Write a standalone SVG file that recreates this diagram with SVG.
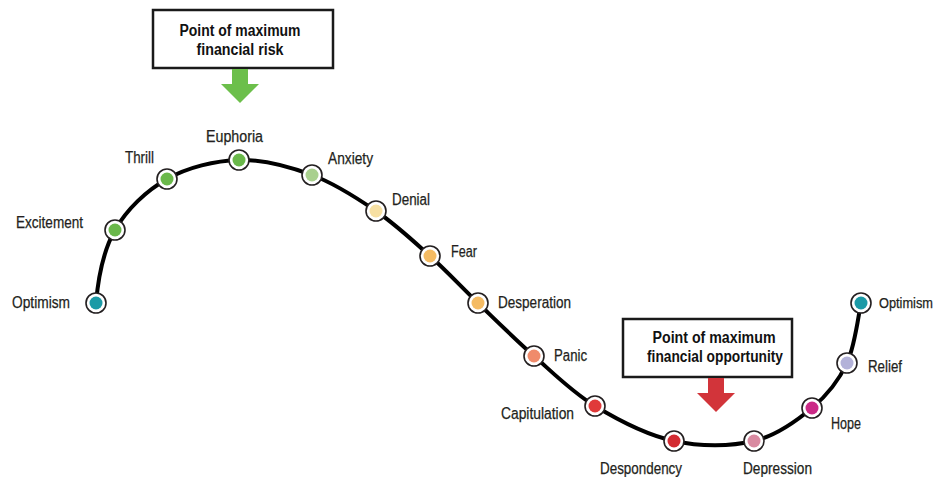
<svg xmlns="http://www.w3.org/2000/svg" width="940" height="477" viewBox="0 0 940 477">
  <style>
    .lbl { font-family: "Liberation Sans", Arial, sans-serif; font-size: 16px; fill: #231f20; stroke: #231f20; stroke-width: 0.25; }
    .btxt { font-family: "Liberation Sans", Arial, sans-serif; font-size: 16px; font-weight: bold; fill: #111; text-anchor: middle; }
    .box { fill: #fff; stroke: #1a1a1a; stroke-width: 2.5; }
    .ring { fill: #fff; stroke: #231f20; stroke-width: 1.6; }
    .curve { fill: none; stroke: #000; stroke-width: 4; stroke-linecap: round; }
  </style>
  <rect width="940" height="477" fill="#fff"/>

  <!-- the emotional cycle curve -->
  <g id="connectors">
    <path class="curve" d="M96,303 C98,280 103.2,250.7 115,230 C126.8,209.3 146.3,190.7 167,179 C187.7,167.3 214.8,160.7 239,160 C263.2,159.3 289.2,166.5 312,175 C334.8,183.5 356.3,197.5 376,211 C395.7,224.5 413,240.7 430,256 C447,271.3 460.7,286.3 478,303 C495.3,319.7 514.5,338.8 534,356 C553.5,373.2 571.7,391.8 595,406 C618.3,420.2 647.5,435.2 674,441 C700.5,446.8 731,446.5 754,441 C777,435.5 796.5,421 812,408 C827.5,395 838.8,380.5 847,363 C855.2,345.5 858.7,313 861,303"/>
  </g>

  <!-- callout: maximum risk -->
  <g id="risk-callout">
    <rect class="box" x="153" y="10" width="180" height="58"/>
    <text class="btxt" x="240" y="36" textLength="121" lengthAdjust="spacingAndGlyphs">Point of maximum</text>
    <text class="btxt" x="240" y="55" textLength="87" lengthAdjust="spacingAndGlyphs">financial risk</text>
    <polygon points="232,69 248,69 248,84 259,84 240,103 221,84 232,84" fill="#6cbf4b"/>
  </g>

  <!-- callout: maximum opportunity -->
  <g id="opportunity-callout">
    <rect class="box" x="623" y="319" width="169" height="58"/>
    <text class="btxt" x="714" y="343" textLength="123" lengthAdjust="spacingAndGlyphs">Point of maximum</text>
    <text class="btxt" x="715" y="362" textLength="136" lengthAdjust="spacingAndGlyphs">financial opportunity</text>
    <polygon points="708,378 724,378 724,393 735,393 716,412 697,393 708,393" fill="#d2343a"/>
  </g>

  <!-- stages -->
  <g id="optimism-start"><circle class="ring" cx="96" cy="303" r="10"/><circle cx="96" cy="303" r="6.5" fill="#1b9aa6"/><text class="lbl" x="12" y="308" textLength="58" lengthAdjust="spacingAndGlyphs">Optimism</text></g>
  <g id="excitement"><circle class="ring" cx="115" cy="230" r="10"/><circle cx="115" cy="230" r="6.5" fill="#6ab84a"/><text class="lbl" x="16" y="228" textLength="67" lengthAdjust="spacingAndGlyphs">Excitement</text></g>
  <g id="thrill"><circle class="ring" cx="167" cy="179" r="10"/><circle cx="167" cy="179" r="6.5" fill="#6ab84a"/><text class="lbl" x="125" y="163" textLength="29" lengthAdjust="spacingAndGlyphs">Thrill</text></g>
  <g id="euphoria"><circle class="ring" cx="239" cy="160" r="10"/><circle cx="239" cy="160" r="6.5" fill="#6ab84a"/><text class="lbl" x="206" y="142" textLength="57" lengthAdjust="spacingAndGlyphs">Euphoria</text></g>
  <g id="anxiety"><circle class="ring" cx="312" cy="175" r="10"/><circle cx="312" cy="175" r="6.5" fill="#a9d08e"/><text class="lbl" x="328" y="164" textLength="45" lengthAdjust="spacingAndGlyphs">Anxiety</text></g>
  <g id="denial"><circle class="ring" cx="376" cy="211" r="10"/><circle cx="376" cy="211" r="6.5" fill="#f7e0a3"/><text class="lbl" x="392" y="205" textLength="38" lengthAdjust="spacingAndGlyphs">Denial</text></g>
  <g id="fear"><circle class="ring" cx="430" cy="256" r="10"/><circle cx="430" cy="256" r="6.5" fill="#f5bb62"/><text class="lbl" x="451" y="257" textLength="26" lengthAdjust="spacingAndGlyphs">Fear</text></g>
  <g id="desperation"><circle class="ring" cx="478" cy="303" r="10"/><circle cx="478" cy="303" r="6.5" fill="#f5bb62"/><text class="lbl" x="498" y="308" textLength="73" lengthAdjust="spacingAndGlyphs">Desperation</text></g>
  <g id="panic"><circle class="ring" cx="534" cy="356" r="10"/><circle cx="534" cy="356" r="6.5" fill="#f08b6b"/><text class="lbl" x="554" y="361" textLength="33" lengthAdjust="spacingAndGlyphs">Panic</text></g>
  <g id="capitulation"><circle class="ring" cx="595" cy="406" r="10"/><circle cx="595" cy="406" r="6.5" fill="#e03a3a"/><text class="lbl" x="501" y="419" textLength="73" lengthAdjust="spacingAndGlyphs">Capitulation</text></g>
  <g id="despondency"><circle class="ring" cx="674" cy="441" r="10"/><circle cx="674" cy="441" r="6.5" fill="#d32b32"/><text class="lbl" x="600" y="474" textLength="82" lengthAdjust="spacingAndGlyphs">Despondency</text></g>
  <g id="depression"><circle class="ring" cx="754" cy="441" r="10"/><circle cx="754" cy="441" r="6.5" fill="#d98aa1"/><text class="lbl" x="743" y="474" textLength="69" lengthAdjust="spacingAndGlyphs">Depression</text></g>
  <g id="hope"><circle class="ring" cx="812" cy="408" r="10"/><circle cx="812" cy="408" r="6.5" fill="#cb2a87"/><text class="lbl" x="831" y="429" textLength="30" lengthAdjust="spacingAndGlyphs">Hope</text></g>
  <g id="relief"><circle class="ring" cx="847" cy="363" r="10"/><circle cx="847" cy="363" r="6.5" fill="#b3b2d9"/><text class="lbl" x="868" y="372" textLength="34" lengthAdjust="spacingAndGlyphs">Relief</text></g>
  <g id="optimism-end"><circle class="ring" cx="861" cy="303" r="10"/><circle cx="861" cy="303" r="6.5" fill="#1b9aa6"/><text class="lbl" x="879" y="308" style="font-size:14px" textLength="54" lengthAdjust="spacingAndGlyphs">Optimism</text></g>
</svg>
